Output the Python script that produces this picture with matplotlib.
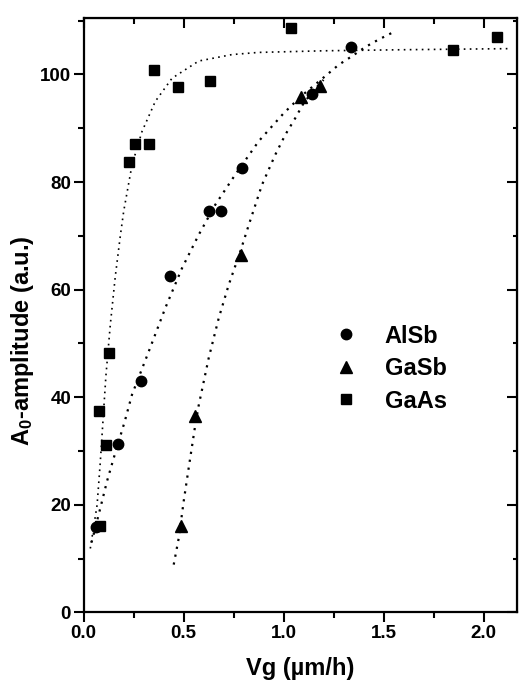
import matplotlib
matplotlib.use("Agg")
import matplotlib.pyplot as plt
from matplotlib.ticker import MultipleLocator

plt.rcParams['font.family'] = ['Liberation Sans', 'DejaVu Sans']
plt.rcParams['font.weight'] = 'bold'
plt.rcParams['mathtext.default'] = 'regular'

# measured points
alsb_x = [0.061, 0.172, 0.286, 0.433, 0.627, 0.687, 0.794, 1.142, 1.336]
alsb_y = [15.8, 31.4, 43.0, 62.5, 74.7, 74.7, 82.6, 96.4, 105.1]
gasb_x = [0.488, 0.557, 0.786, 1.088, 1.184]
gasb_y = [16.0, 36.6, 66.4, 95.9, 97.8]
gaas_x = [0.08, 0.076, 0.11, 0.126, 0.226, 0.256, 0.327, 0.352, 0.473, 0.634,
          1.038, 1.846, 2.067]
gaas_y = [16.1, 37.4, 31.1, 48.2, 83.7, 87.0, 87.0, 100.9, 97.7, 98.7,
          108.6, 104.6, 106.9]

# fit curves
alsb_fit_x = [0.04, 0.084, 0.1175, 0.151, 0.206, 0.2425, 0.326, 0.409, 0.4925,
              0.576, 0.659, 0.759, 0.876, 1.001, 1.089, 1.209, 1.276, 1.3425,
              1.409, 1.476, 1.551]
alsb_fit_y = [13.0, 19.4, 24.4, 28.7, 35.5, 40.5, 48.5, 56.6, 64.0,
              70.2, 75.8, 81.4, 87.6, 92.8, 96.0, 99.7, 101.8, 103.4,
              105.1, 106.5, 107.9]
gasb_fit_x = [0.451, 0.476, 0.501, 0.526, 0.559, 0.576, 0.626, 0.676, 0.726,
              0.784, 0.826, 0.8925, 0.959, 1.009, 1.059, 1.101, 1.15, 1.2]
gasb_fit_y = [8.9, 13.8, 20.7, 26.9, 34.9, 38.5, 47.3, 54.7, 60.9,
              67.1, 72.0, 79.5, 85.1, 88.8, 91.9, 94.7, 97.0, 99.0]
gaas_fit_x = [0.034, 0.068, 0.084, 0.098, 0.112, 0.134, 0.159, 0.184, 0.201,
              0.2425, 0.2925, 0.359, 0.4425, 0.576, 0.7425, 0.876, 1.2, 1.6, 2.126]
gaas_fit_y = [11.9, 20.0, 28.0, 36.0, 44.0, 53.5, 62.5, 70.0, 74.6,
              83.2, 89.4, 95.0, 99.3, 102.5, 103.7, 104.1, 104.4, 104.6, 104.8]

fig = plt.figure(figsize=(5.2, 6.81), dpi=100)
ax = fig.add_axes([0.1606, 0.1006, 0.8327, 0.873])

dots = (0, (1, 2.6))
ax.plot(gaas_fit_x, gaas_fit_y, color='black', lw=1.2, ls=dots)
ax.plot(alsb_fit_x, alsb_fit_y, color='black', lw=1.6, ls=dots)
ax.plot(gasb_fit_x, gasb_fit_y, color='black', lw=1.6, ls=dots)

ax.plot(alsb_x, alsb_y, 'o', color='black', ms=7.5, label='AlSb')
ax.plot(gasb_x, gasb_y, '^', color='black', ms=8.5, label='GaSb')
ax.plot(gaas_x, gaas_y, 's', color='black', ms=7, label='GaAs')

ax.set_xlim(0, 2.165)
ax.set_ylim(0, 110.5)
ax.xaxis.set_major_locator(MultipleLocator(0.5))
ax.xaxis.set_minor_locator(MultipleLocator(0.25))
ax.yaxis.set_major_locator(MultipleLocator(20))
ax.yaxis.set_minor_locator(MultipleLocator(10))
ax.xaxis.set_major_formatter(plt.FormatStrFormatter('%.1f'))
ax.tick_params(which='major', direction='out', length=7, width=1.5,
               labelsize=13.5, pad=2)
ax.tick_params(which='minor', direction='out', length=4, width=1.5)
for s in ax.spines.values():
    s.set_linewidth(1.6)

# inward ticks on top and right
top = ax.secondary_xaxis('top')
top.xaxis.set_major_locator(MultipleLocator(0.5))
top.xaxis.set_minor_locator(MultipleLocator(0.25))
top.tick_params(which='major', direction='in', length=7, width=1.5, labeltop=False)
top.tick_params(which='minor', direction='in', length=4, width=1.5)
right = ax.secondary_yaxis('right')
right.yaxis.set_major_locator(MultipleLocator(20))
right.yaxis.set_minor_locator(MultipleLocator(10))
right.tick_params(which='major', direction='in', length=7, width=1.5, labelright=False)
right.tick_params(which='minor', direction='in', length=3, width=1.5)

ax.set_xlabel('Vg (µm/h)', fontsize=17, fontweight='bold')
ax.set_ylabel('A$_0$-amplitude (a.u.)', fontsize=17, fontweight='bold')
ax.xaxis.set_label_coords(0.5, -0.075)
ax.yaxis.set_label_coords(-0.11, 0.457)

ax.legend(loc='upper left', bbox_to_anchor=(0.578, 0.484), frameon=False,
          handlelength=1.0, handletextpad=1.15, labelspacing=0.4,
          borderpad=0, borderaxespad=0, prop={'weight': 'bold', 'size': 17})

fig.savefig('out.png', dpi=100)
